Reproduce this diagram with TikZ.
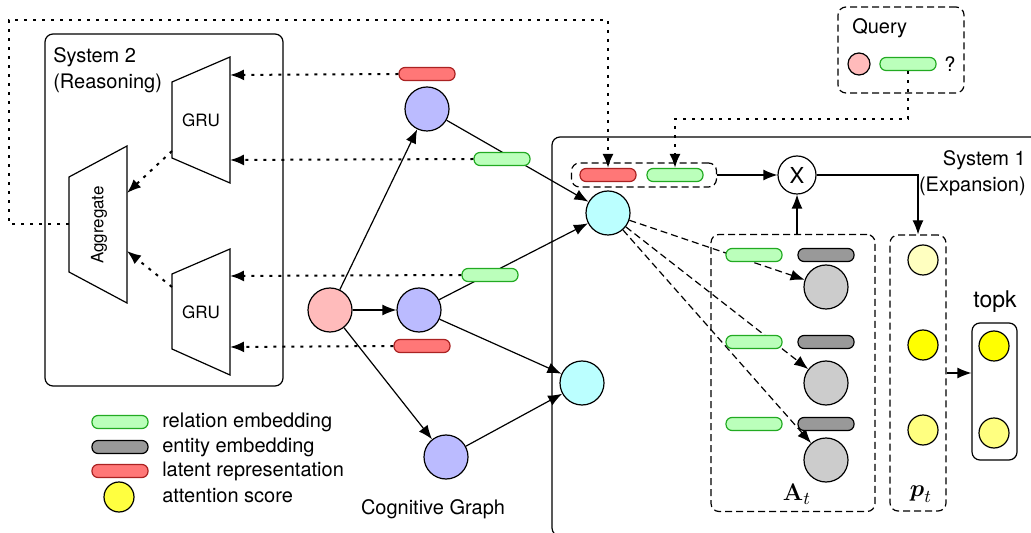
\documentclass[tikz,border=0pt]{standalone}
\usepackage{amsmath,amssymb}
\usepackage[no-math]{fontspec}
\setmainfont{TeX Gyre Heros}
\usepackage{xcolor}
\usepackage{tikz}
\usetikzlibrary{arrows.meta}
\definecolor{nodeblue}{RGB}{187,187,255}
\definecolor{nodepink}{RGB}{255,187,187}
\definecolor{nodecyan}{RGB}{187,255,255}
\definecolor{nodegray}{RGB}{204,204,204}
\definecolor{relfill}{RGB}{187,255,187}
\definecolor{reldraw}{RGB}{34,170,34}
\definecolor{latfill}{RGB}{255,119,119}
\definecolor{latdraw}{RGB}{170,34,34}
\definecolor{entfill}{RGB}{153,153,153}
\definecolor{scorepale}{RGB}{255,255,192}
\definecolor{scorehigh}{RGB}{255,255,0}
\definecolor{scoremid}{RGB}{255,255,128}
\tikzset{
  every node/.style={font=\fontsize{10}{13}\selectfont},
  ent/.style={circle,draw,line width=0.6pt,minimum size=22pt,inner sep=0pt},
  score/.style={circle,draw,line width=0.6pt,minimum size=15pt,inner sep=0pt},
  emb/.style={rectangle,draw,rounded corners=3pt,minimum width=28pt,minimum height=6.5pt,inner sep=0pt,line width=0.6pt},
  relemb/.style={emb,fill=relfill,draw=reldraw},
  entemb/.style={emb,fill=entfill},
  latemb/.style={emb,fill=latfill,draw=latdraw},
  dotline/.style={line width=1pt,dash pattern=on 1.5pt off 3pt},
  dashline/.style={dash pattern=on 3.5pt off 2pt},
  dashbox/.style={draw,dash pattern=on 3.5pt off 2pt,rounded corners=4pt,inner sep=0pt},
  small/.style={font=\fontsize{8.5}{10}\selectfont},
  mathlab/.style={font=\fontsize{12.5}{14}\selectfont}
}

\begin{document}
\begin{tikzpicture}[x=0.5pt,y=-0.5pt,>={Latex[length=7pt,width=5.5pt]},line width=0.6pt]
\useasboundingbox (0,0) rectangle (1031,533);

% system 2
\draw[rounded corners=4pt] (45,34) rectangle (283,386);
\node[anchor=north west,align=left] (sys2) at (46,40) {System 2\\(Reasoning)};
\draw (172,82) -- (230,57) -- (230,183) -- (172,158) -- cycle;
\node[small] (gru1) at (201,120) {GRU};
\draw (172,274) -- (230,249) -- (230,375) -- (172,349) -- cycle;
\node[small] (gru2) at (201,312) {GRU};
\draw (69,177) -- (127,146) -- (127,303) -- (69,272) -- cycle;
\node[small,rotate=90] (agg) at (99,225) {Aggregate};
\coordinate (gru1a) at (230,75);
\coordinate (gru1b) at (230,160);
\coordinate (gru2a) at (230,276);
\coordinate (gru2b) at (230,347);
\coordinate (gru1out) at (172,151);
\coordinate (gru2out) at (172,287);
\coordinate (aggin1) at (127,193);
\coordinate (aggin2) at (127,251);
\coordinate (aggout) at (69,224);
\draw[dotline,->] (gru1out) -- (aggin1);
\draw[dotline,->] (gru2out) -- (aggin2);

% system 1
\draw[rounded corners=4pt] (552,137) rectangle (1060,536);
\node[anchor=north east,align=right] (sys1) at (1033,143) {System 1\\(Expansion)};

% cognitive graph
\node[ent,fill=nodepink] (q) at (330,310) {};
\node[ent,fill=nodeblue] (b1) at (427,109) {};
\node[ent,fill=nodeblue] (b2) at (419,310) {};
\node[ent,fill=nodeblue] (b3) at (446,457) {};
\node[ent,fill=nodecyan] (c1) at (608,213) {};
\node[ent,fill=nodecyan] (c2) at (582,383) {};
\node (cog) at (433,509) {Cognitive Graph};
\draw[->] (q) -- (b1);
\draw[->] (q) -- (b2);
\draw[->] (q) -- (b3);
\draw[->] (b1) -- (c1);
\draw[->] (b2) -- (c1);
\draw[->] (b2) -- (c2);
\draw[->] (b3) -- (c2);

% candidates
\node[dashbox,minimum width=82pt,minimum height=138.5pt] (abox) at (793,373) {};
\node[dashbox,minimum width=28pt,minimum height=138pt] (pbox) at (918,373) {};
\node[ent,fill=nodegray] (g1) at (826,287) {};
\node[ent,fill=nodegray] (g2) at (826,383) {};
\node[ent,fill=nodegray] (g3) at (826,460) {};
\draw[dashline,->] (c1) -- (g1);
\draw[dashline,->] (c1) -- (g2);
\draw[dashline,->] (c1) -- (g3);
\node[relemb] (r1) at (754,255) {};
\node[relemb] (r2) at (754,342) {};
\node[relemb] (r3) at (754,424) {};
\node[entemb] (e1) at (826,255) {};
\node[entemb] (e2) at (826,342) {};
\node[entemb] (e3) at (826,424) {};
\node[mathlab] (alab) at (797,494) {$\mathbf{A}_t$};
\node[mathlab] (plab) at (921,494) {$\boldsymbol{p}_t$};
\node[score,fill=scorepale] (s1) at (923,260) {};
\node[score,fill=scorehigh] (s2) at (923,345) {};
\node[score,fill=scoremid] (s3) at (923,430) {};

% topk
\node[draw,rounded corners=4pt,minimum width=22.5pt,minimum height=68.5pt,inner sep=0pt] (tbox) at (994.5,391.5) {};
\node[font=\fontsize{11.5}{13}\selectfont] (tlab) at (995,302) {topk};
\node[score,fill=scorehigh] (t1) at (994,346) {};
\node[score,fill=scoremid] (t2) at (994,433) {};
\draw[->] (pbox.east) -- (pbox.east -| tbox.west);

% query and multiplication
\node[dashbox,minimum width=72.5pt,minimum height=12pt] (inbox) at (644,175) {};
\node[latemb] (lat0) at (608,175) {};
\node[relemb] (rel0) at (675,175) {};
\node[circle,draw,minimum size=19pt,inner sep=0pt,font=\fontsize{11}{13}\selectfont] (mul) at (797,175) {X};
\draw[->] (inbox.east) -- (mul.west);
\draw[->] (mul.east) -| (pbox.north);
\draw[->] (mul |- abox.north) -- (mul.south);

\node[dashbox,minimum width=63pt,minimum height=43pt] (qbox) at (901,50) {};
\node[anchor=west] (qlab) at (845,28) {Query};
\node[circle,draw,fill=nodepink,minimum size=11pt,inner sep=0pt] (qent) at (859,64) {};
\node[relemb] (qrel) at (908,64) {};
\node (qmark) at (950,64) {?};
\coordinate (qturn) at (908,119);
\draw[dotline,->] (qrel.south) -- (qturn) -| (rel0.north);

% latent and relation embeddings fed to system 2
\node[latemb] (lat1) at (427,74) {};
\node[relemb] (rel1) at (502,159) {};
\node[relemb] (rel2) at (490,275) {};
\node[latemb] (lat2) at (422,346) {};
\draw[dotline,->] (lat1.west) -- (gru1a);
\draw[dotline,->] (rel1.west) -- (gru1b);
\draw[dotline,->] (rel2.west) -- (gru2a);
\draw[dotline,->] (lat2.west) -- (gru2b);
\coordinate (loopa) at (9,224);
\coordinate (loopb) at (9,20);
\draw[dotline,->] (aggout) -- (loopa) -- (loopb) -| (lat0.north);

% legend
\node[relemb] (lgrel) at (120,422) {};
\node[entemb] (lgent) at (120,447) {};
\node[latemb] (lglat) at (120,471) {};
\node[circle,draw,fill=scorehigh!50!scoremid,minimum width=14pt,minimum height=15pt,inner sep=0pt] (lgscore) at (119,497) {};
\node[anchor=west] (lgreltxt) at (155,422) {relation embedding};
\node[anchor=west] (lgenttxt) at (155,447) {entity embedding};
\node[anchor=west] (lglattxt) at (155,471) {latent representation};
\node[anchor=west] (lgscoretxt) at (155,496) {attention score};
\end{tikzpicture}
\end{document}
